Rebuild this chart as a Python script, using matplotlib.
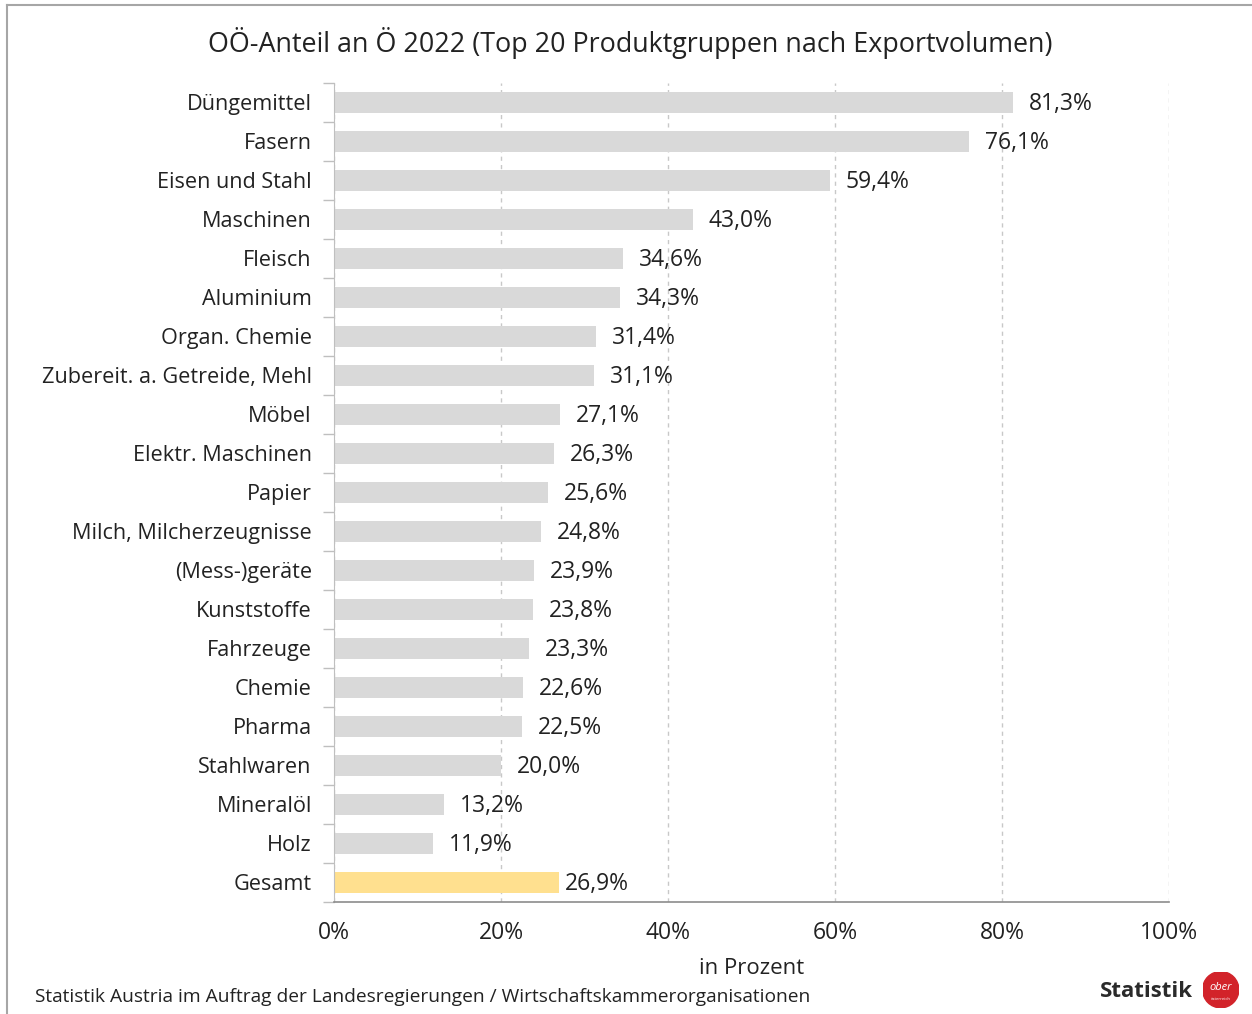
import matplotlib
matplotlib.use('Agg')
import matplotlib.pyplot as plt
from matplotlib.lines import Line2D
from matplotlib.patches import Circle

plt.rcParams['font.family'] = ['Open Sans', 'DejaVu Sans']

# Daten
kategorien = ["Düngemittel", "Fasern", "Eisen und Stahl", "Maschinen", "Fleisch",
              "Aluminium", "Organ. Chemie", "Zubereit. a. Getreide, Mehl", "Möbel",
              "Elektr. Maschinen", "Papier", "Milch, Milcherzeugnisse", "(Mess-)geräte",
              "Kunststoffe", "Fahrzeuge", "Chemie", "Pharma", "Stahlwaren", "Mineralöl",
              "Holz", "Gesamt"]
werte = [81.3, 76.1, 59.4, 43.0, 34.6, 34.3, 31.4, 31.1, 27.1, 26.3, 25.6, 24.8,
         23.9, 23.8, 23.3, 22.6, 22.5, 20.0, 13.2, 11.9, 26.9]
x_ticks = [0, 20, 40, 60, 80, 100]

grau = '#d9d9d9'
gelb = '#ffe08f'
farben = [grau] * (len(werte) - 1) + [gelb]
txt = '#222222'

fig = plt.figure(figsize=(12.52, 10.14), dpi=100)
ax = fig.add_axes([0.2668, 0.1105, 0.6669, 0.8077])

pos = list(range(len(kategorien)))
ax.barh(pos, werte, height=0.56, color=farben, zorder=2)

# Wertbeschriftungen
for i, v in enumerate(werte):
    off = 1.9 if i < len(werte) - 1 else 0.7
    ax.text(v + off, i + 0.03, f"{v:.1f}%".replace('.', ','), va='center', ha='left',
            fontsize=16.5, color=txt, zorder=3)

ax.set_xlim(0, 100)
ax.set_ylim(len(kategorien) - 0.5, -0.5)

ax.set_xticks(x_ticks)
ax.set_xticklabels([f"{t}%" for t in x_ticks], fontsize=16.5, color=txt)
ax.tick_params(axis='x', length=0, pad=14)

# Kategorien als Minor-Ticks, Grenzstriche als Major-Ticks
ax.set_yticks([p - 0.5 for p in pos] + [len(pos) - 0.5])
ax.set_yticklabels([])
ax.set_yticks(pos, minor=True)
ax.set_yticklabels(kategorien, minor=True, fontsize=15.6, color=txt)
ax.tick_params(axis='y', which='major', length=8, color='#bfbfbf', width=1)
ax.tick_params(axis='y', which='minor', length=0, pad=16)

ax.grid(axis='x', linestyle=(0, (3, 3)), color='#c8c8c8', linewidth=1, zorder=0)
for s in ['top', 'right']:
    ax.spines[s].set_visible(False)
ax.spines['left'].set_color('#bfbfbf')
ax.spines['bottom'].set_color('#8c8c8c')
ax.spines['bottom'].set_linewidth(1.2)

ax.set_xlabel('in Prozent', fontsize=16, color=txt, labelpad=9)

fig.text(0.503, 0.958, 'OÖ-Anteil an Ö 2022 (Top 20 Produktgruppen nach Exportvolumen)',
         ha='center', va='center', fontsize=19.4, color=txt)
fig.text(0.028, 0.017, 'Statistik Austria im Auftrag der Landesregierungen / Wirtschaftskammerorganisationen',
         ha='left', va='center', fontsize=13.8, color=txt)

# Logo
fig.text(0.953, 0.022, 'Statistik', ha='right', va='center', fontsize=16,
         fontweight='bold', color='#2a2a2a')
lax = fig.add_axes([0.9605, 0.006, 0.029, 0.036])
lax.set_aspect('equal')
lax.add_patch(Circle((0.5, 0.5), 0.5, color='#d2232a'))
lax.text(0.5, 0.56, 'ober', ha='center', va='center', fontsize=8, style='italic',
         color='white')
lax.text(0.5, 0.25, 'österreich', ha='center', va='center', fontsize=3, color='white')
lax.set_xlim(0, 1)
lax.set_ylim(0, 1)
lax.axis('off')

# Rahmen
fig.add_artist(Line2D([0.0056, 1.0], [0.995, 0.995], transform=fig.transFigure,
                      color='#a6a6a6', linewidth=1.5))
fig.add_artist(Line2D([0.0056, 0.0056], [0.0, 0.995], transform=fig.transFigure,
                      color='#a6a6a6', linewidth=1.5))

fig.savefig('out.png', dpi=100)
